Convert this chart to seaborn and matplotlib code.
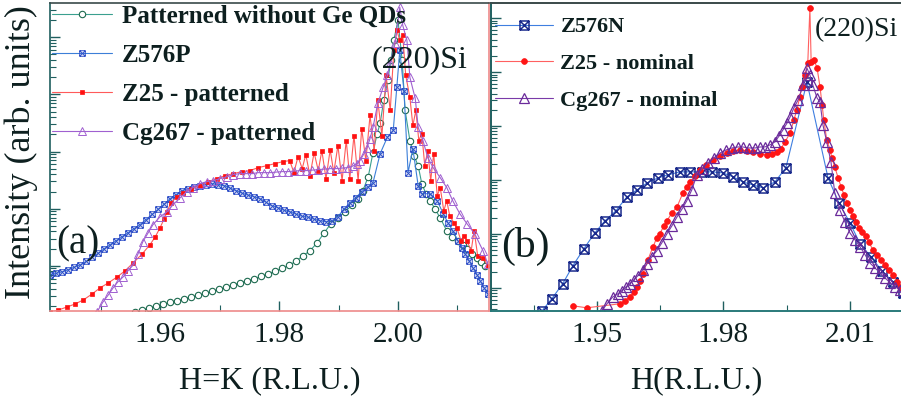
import matplotlib
matplotlib.use("Agg")
import matplotlib.pyplot as plt
import seaborn as sns
from matplotlib.path import Path
from matplotlib.ticker import LogLocator, NullFormatter, MultipleLocator
from matplotlib.font_manager import FontProperties

sns.set_style("ticks")
plt.rcParams["font.family"] = ["Liberation Serif", "DejaVu Serif"]
plt.rcParams["xtick.direction"] = "in"
plt.rcParams["ytick.direction"] = "in"

# ---------------- panel (a) data ----------------
pat_h = [1.9558, 1.957, 1.9582, 1.9593, 1.9605, 1.9617, 1.9629, 1.964, 1.9652, 1.9664,
         1.9676, 1.9687, 1.9699, 1.9711, 1.9723, 1.9734, 1.9746, 1.9758, 1.977, 1.9782,
         1.9793, 1.9805, 1.9817, 1.9829, 1.984, 1.9852, 1.9864, 1.9876, 1.9887, 1.9899,
         1.9911, 1.9923, 1.9933, 1.9941, 1.995, 1.9958, 1.9965, 1.997, 1.9976, 1.9983,
         1.9988, 1.9993, 2.0, 2.0007, 2.0012, 2.002, 2.0027, 2.0034, 2.004, 2.0047,
         2.0054, 2.0062, 2.0071, 2.0082, 2.0091, 2.0101, 2.0109, 2.0116, 2.0124, 2.0133,
         2.0139, 2.0146]
pat_i = [0.156, 0.169, 0.183, 0.199, 0.211, 0.229, 0.243, 0.264, 0.286, 0.304,
         0.329, 0.357, 0.387, 0.420, 0.464, 0.503, 0.546, 0.592, 0.655, 0.724,
         0.801, 0.904, 1.02, 1.22, 1.50, 1.83, 2.53, 3.79, 5.46, 6.95,
         8.86, 11.7, 15.0, 20.7, 36.4, 96, 207, 310, 785, 1780,
         3950, 8900, 20000, 3950, 525, 156, 85, 56, 27.5, 18.3,
         13.8, 10.0, 6.9, 4.1, 3.23, 2.75, 2.34, 2.0, 1.62, 1.38,
         1.17, 1.0]

z576p_h = [1.9415, 1.9425, 1.9435, 1.9445, 1.9455, 1.9466, 1.9476, 1.9486, 1.9496, 1.9506,
           1.9516, 1.9526, 1.9536, 1.9546, 1.9556, 1.9566, 1.9576, 1.9587, 1.9597, 1.9607,
           1.9617, 1.9627, 1.9637, 1.9647, 1.9657, 1.9667, 1.9677, 1.9687, 1.9697, 1.9708,
           1.9718, 1.9728, 1.9738, 1.9748, 1.9758, 1.9768, 1.9778, 1.9788, 1.9798, 1.9808,
           1.9818, 1.9829, 1.9839, 1.9849, 1.9859, 1.9869, 1.9879, 1.9889, 1.9899, 1.9909,
           1.9919, 1.9929, 1.9939, 1.995, 1.9958,
           1.997, 1.9982, 1.9992, 1.9998, 2.0003, 2.001, 2.0017, 2.0025, 2.0034, 2.004,
           2.0054, 2.0066, 2.0076, 2.0084, 2.0092, 2.0101, 2.0108, 2.0113, 2.012, 2.0126,
           2.0133, 2.0138, 2.0145, 2.0151]
z576p_i = [0.695, 0.738, 0.785, 0.851, 0.941, 1.04, 1.20, 1.41, 1.66, 1.99,
           2.34, 2.75, 3.23, 3.79, 4.46, 5.24, 6.41, 8.01, 9.80, 12.0,
           15.0, 17.6, 20.7, 22.4, 24.3, 25.3, 26.4, 27.5, 26.4, 25.3,
           22.9, 20.7, 18.7, 17.3, 16.2, 15.0, 13.0, 11.3, 10.4, 9.41,
           8.86, 8.01, 7.38, 7.10, 6.55, 6.16, 5.91, 6.16, 7.24, 9.80,
           12.7, 15.6, 19.9, 24.3, 28.6,
           92, 177, 234, 1330, 5900, 1170, 43, 113, 25, 18.3,
           18.3, 13.8, 8.2, 5.7, 4.1, 2.75, 2.07, 1.62, 1.22, 0.92,
           0.70, 0.55, 0.41, 0.32]

z25p_h = [1.9415, 1.9429, 1.9444, 1.9457, 1.9471, 1.9486, 1.9499, 1.9513, 1.9528, 1.9541,
          1.9555, 1.957, 1.9583, 1.9592, 1.96, 1.9607, 1.9612, 1.9618, 1.9629, 1.9639,
          1.9652, 1.9667, 1.9681, 1.9696, 1.9709, 1.9723, 1.9738, 1.9751, 1.9765, 1.978,
          1.9793, 1.9807,
          1.9818, 1.9825, 1.9832, 1.9839, 1.9845, 1.9852, 1.9859, 1.9866, 1.9872, 1.9879,
          1.9886, 1.9892, 1.9899, 1.9906, 1.9913, 1.9919, 1.9926, 1.9933, 1.9939, 1.9946,
          1.9953, 1.996, 1.9966, 1.9973, 1.998, 1.9987, 1.9993, 1.9998, 2.0003, 2.0008,
          2.0013, 2.002, 2.0025, 2.003, 2.0035, 2.004, 2.0045, 2.005, 2.0055, 2.006,
          2.0066, 2.0071, 2.0077, 2.0082, 2.0087, 2.0094, 2.0099, 2.0106, 2.0111, 2.0116,
          2.0123, 2.0128, 2.0134, 2.0143, 2.0151]
z25p_i = [0.155, 0.169, 0.191, 0.215, 0.253, 0.323, 0.411, 0.503, 0.641, 0.817,
          1.13, 1.62, 2.34, 3.23, 4.64, 6.68, 8.86, 12.7, 16.2, 19.1,
          22.4, 25.3, 29.8, 33.6, 37.9, 41.1, 44.6, 46.4, 52.4, 56.8,
          61.6, 66.8,
          69.5, 42.8, 81.7, 50.3, 88.6, 37.9, 96, 46.4, 104, 33.6,
          108, 42.8, 127, 31, 156, 33.6, 191, 31, 253, 69.5,
          429, 104, 785, 191, 2150, 524, 5910, 13270, 8860, 10840,
          2150, 886, 286, 524, 156, 207, 56.8, 104, 31, 92.2,
          16.9, 23.4, 9.2, 13.8, 7.5, 5.7, 4.6, 2.75, 3.36, 2.75,
          1.83, 4.1, 1.5, 1.38, 1.0]

cg267p_h = [1.9494, 1.9504, 1.9513, 1.9521, 1.9529, 1.9538, 1.9546, 1.9555, 1.9563, 1.9571,
            1.958, 1.9588, 1.96, 1.9612, 1.9622, 1.9634, 1.9645, 1.9655, 1.9667, 1.9679,
            1.9689, 1.9701, 1.9713, 1.9723,
            1.9734, 1.9745, 1.9755, 1.9765, 1.9775, 1.9785, 1.9795, 1.9805, 1.9815, 1.9825,
            1.9835, 1.9845, 1.9855, 1.9866, 1.9876, 1.9886, 1.9896, 1.9906, 1.9916, 1.9924,
            1.9931, 1.9936,
            1.9943, 1.9948, 1.9953, 1.9958, 1.9966, 1.9975, 1.9982, 1.9987, 1.9995, 2.0003,
            2.0008, 2.0015, 2.002, 2.0029, 2.0034, 2.0042, 2.005, 2.0059, 2.0071, 2.0082,
            2.0092, 2.0104, 2.0116, 2.0129, 2.0143, 2.0151]
cg267p_i = [0.156, 0.233, 0.31, 0.411, 0.524, 0.641, 0.817, 1.04, 1.62, 2.64,
            3.79, 5.24, 7.24, 8.86, 11.8, 15.6, 19.9, 23.4, 27.5, 29.8,
            31, 33.6, 36.4, 39.5,
            41.1, 41.1, 41.1, 42.8, 42.8, 42.8, 43.7, 44.6, 44.6, 45.5,
            46.4, 46.4, 47.3, 48.3, 49.3, 50.3, 50.3, 51.4, 52.4, 55.7,
            61.6, 69.5,
            92.2, 117, 169, 264, 695, 1327, 2150, 3500, 7850, 33600,
            16200, 8860, 1990, 851, 264, 156, 78.5, 52.4, 35, 23.4,
            13.8, 8.17, 5.46, 3.64, 1.83, 1.08]

# ---------------- panel (b) data ----------------
z576n_h = [1.937, 1.9393, 1.9419, 1.9443, 1.9469, 1.9495, 1.9519, 1.9545, 1.9571, 1.9595,
           1.9619, 1.9645, 1.9668, 1.9697, 1.9721, 1.9749, 1.9773, 1.9799, 1.9823, 1.9846,
           1.987, 1.9894, 1.9922, 1.9948, 1.9998, 2.0048, 2.0074, 2.01, 2.0124, 2.015,
           2.0176, 2.0202, 2.0226]
z576n_i = [0.375, 0.625, 1.19, 2.56, 5.27, 10.4, 17.4, 26.7, 48.4, 65.3,
           88, 109, 124, 141, 141, 141, 141, 135, 114, 91.8,
           80.8, 71.1, 91.8, 167, 6530, 109, 37.5, 16, 6.53, 3.75,
           2.06, 1.29, 0.8]

z25n_h = [1.9443, 1.9476, 1.9555, 1.9566, 1.9578, 1.9588, 1.9595, 1.9602, 1.9609, 1.9621,
          1.9633, 1.9642, 1.9649, 1.9659, 1.9666, 1.9678, 1.969, 1.9704, 1.9713, 1.9721,
          1.9732, 1.9744, 1.9759, 1.9775, 1.9792, 1.9808, 1.9823, 1.9839, 1.9856, 1.987,
          1.9887, 1.9903, 1.9915, 1.9927, 1.9936, 1.9946, 1.9958, 1.9967, 1.9974, 1.9981,
          1.9986, 1.9993, 2.0, 2.0005, 2.0008, 2.0015, 2.0022, 2.0029, 2.0034, 2.0038,
          2.0045, 2.0053, 2.0057, 2.0064, 2.0072, 2.0079, 2.0086, 2.0093, 2.01, 2.0107,
          2.0114, 2.0121, 2.0128, 2.0138, 2.0145, 2.0154, 2.0164, 2.0173, 2.0183, 2.0192,
          2.0202, 2.0211, 2.0219]
z25n_i = [0.464, 0.426, 0.506, 0.574, 0.681, 0.843, 1.04, 1.35, 1.82, 3.3,
          5.74, 8.43, 10, 14.1, 17.4, 24.5, 31.6, 57.4, 74.2, 91.8,
          119, 153, 190, 235, 278, 316, 344, 359, 344, 330,
          303, 290, 303, 330, 375, 506, 742, 1290, 1980, 3440,
          5280, 8790, 14700, 153000, 15300, 16700, 11900, 5280, 2450, 1290,
          550, 359, 255, 174, 109, 74.2, 52.7, 37.5, 27.8, 21.5,
          16.7, 12.9, 10.9, 9.18, 7.11, 5.05, 4.08, 3.3, 2.67, 2.15,
          1.74, 1.29, 1.04]

cg267n_h = [1.9512, 1.9524, 1.9538, 1.955, 1.9559, 1.9569, 1.9578, 1.9588, 1.9597, 1.9609,
            1.9619, 1.963, 1.9642, 1.9654, 1.9666, 1.9678, 1.969, 1.9702, 1.9713, 1.9725,
            1.9737, 1.9749, 1.9763, 1.9777, 1.9792, 1.9806, 1.982, 1.9834, 1.9846, 1.986,
            1.9875, 1.9887, 1.9898, 1.991, 1.9922, 1.9932, 1.9941, 1.9951, 1.9958, 1.9967,
            1.9977, 1.9989, 1.9998, 2.0005, 2.0012, 2.0022, 2.0029, 2.0036, 2.0045, 2.0055,
            2.0064, 2.0076, 2.0088, 2.01, 2.0112, 2.0124, 2.0136, 2.0147, 2.0159, 2.0171,
            2.0183, 2.0195, 2.0207, 2.0219]
cg267n_i = [0.375, 0.506, 0.681, 0.774, 0.88, 1.04, 1.19, 1.41, 1.67, 2.15,
            2.78, 3.75, 4.84, 6.81, 10, 14.1, 20.6, 29, 40.8, 65.3,
            124, 160, 206, 255, 316, 359, 391, 408, 408, 391,
            391, 408, 408, 445, 506, 653, 843, 1140, 1470, 2150,
            3030, 5740, 11900, 8790, 5740, 3300, 2780, 1040, 506, 215,
            57.4, 27.8, 16.7, 10.4, 7.74, 5.74, 4.08, 2.9, 2.35, 1.9,
            1.53, 1.24, 1.04, 0.918]

labels_a = ["Patterned without Ge QDs", "Z576P", "Z25 - patterned", "Cg267 - patterned"]
labels_b = ["Z576N", "Z25 - nominal", "Cg267 - nominal"]
xticks_a = [1.96, 1.98, 2.00]
xticklabels_a = ["1.96", "1.98", "2.00"]
xticks_b = [1.95, 1.98, 2.01]
xticklabels_b = ["1.95", "1.98", "2.01"]

# square with a cross inside
boxx = Path([(-1, -1), (1, -1), (1, 1), (-1, 1), (-1, -1),
             (-1, -1), (1, 1), (-1, 1), (1, -1)],
            [Path.MOVETO, Path.LINETO, Path.LINETO, Path.LINETO, Path.CLOSEPOLY,
             Path.MOVETO, Path.LINETO, Path.MOVETO, Path.LINETO])

fig = plt.figure(figsize=(9.01, 4.08), dpi=100)
ax_a = fig.add_axes([50 / 901, 1 - 311 / 408, 439 / 901, 308 / 408])
ax_b = fig.add_axes([491 / 901, 1 - 311 / 408, 410 / 901, 308 / 408])

txt = "#0d1f1f"
teal = "#1f5f5f"
pink = "#ee8a8a"


def draw(ax, h, i, label, lc, marker, ms, mfc, mec, mew, lw=0.8):
    sns.lineplot(x=h, y=i, ax=ax, estimator=None, sort=False, color=lc, lw=lw,
                 marker=marker, ms=ms, mfc=mfc, mec=mec, mew=mew, label=label)


for ax in (ax_a, ax_b):
    ax.set_yscale("log")

draw(ax_a, pat_h, pat_i, labels_a[0], "#3aa08f", "o", 4.6, "white", "#1d6a4f", 0.8)
draw(ax_a, z576p_h, z576p_i, labels_a[1], "#3c7fd8", boxx, 4.0, "none", "#3050c8", 0.7)
draw(ax_a, z25p_h, z25p_i, labels_a[2], "#ff5a5a", "s", 2.8, "#ff1010", "#ff1010", 0.5)
draw(ax_a, cg267p_h, cg267p_i, labels_a[3], "#a060d0", "^", 5.2, "none", "#a060d0", 0.7)

draw(ax_b, z576n_h, z576n_i, labels_b[0], "#3f7fe0", boxx, 6.5, "none", "#1a2a8c", 1.1)
draw(ax_b, z25n_h, z25n_i, labels_b[1], "#ff6060", "o", 4.2, "#ff1515", "#ff1515", 0.5)
draw(ax_b, cg267n_h, cg267n_i, labels_b[2], "#7a3aa8", "^", 7.0, "none", "#6a2a9a", 0.9)

ax_a.set_xlim(1.9415, 2.0153)
ax_a.set_ylim(10 ** -0.79, 10 ** 4.6)
ax_b.set_xlim(1.9249, 2.0221)
ax_b.set_ylim(10 ** -0.43, 10 ** 5.28)

ax_a.set_xticks(xticks_a, xticklabels_a)
ax_a.xaxis.set_minor_locator(MultipleLocator(0.01))
ax_b.set_xticks(xticks_b, xticklabels_b)
ax_b.xaxis.set_minor_locator(MultipleLocator(0.015))

for ax in (ax_a, ax_b):
    ax.yaxis.set_major_locator(LogLocator(base=10, numticks=20))
    ax.yaxis.set_minor_locator(LogLocator(base=10, subs=[2, 3, 4, 5, 6, 7, 8, 9], numticks=50))
    ax.yaxis.set_major_formatter(NullFormatter())
    ax.yaxis.set_minor_formatter(NullFormatter())
    ax.tick_params(axis="both", which="major", length=7, width=1, color=teal,
                   labelsize=21, labelcolor=txt, pad=8)
    ax.tick_params(axis="both", which="minor", length=4, width=0.8, color=teal)
    ax.tick_params(axis="y", which="both", right=False)
    ax.tick_params(axis="x", which="both", top=False)
    ax.set_ylabel("")

for s, c in zip(["left", "top", "bottom", "right"], [teal, "#3a4a4a", pink, pink]):
    ax_a.spines[s].set_color(c)
    ax_a.spines[s].set_linewidth(1.2)
for s, c in zip(["left", "top", "bottom"], [teal, "#3a4a4a", "#2a7a7a"]):
    ax_b.spines[s].set_color(c)
    ax_b.spines[s].set_linewidth(1.4)
ax_b.spines["right"].set_visible(False)

ax_a.set_xlabel("H=K (R.L.U.)", fontsize=23, color=txt)
ax_a.xaxis.set_label_coords(0.5, -0.18)
ax_b.set_xlabel("H(R.L.U.)", fontsize=23, color=txt)
ax_b.xaxis.set_label_coords(0.5, -0.18)

fig.text(0.024, 0.627, "Intensity (arb. units)", rotation=90, ha="center", va="center",
         fontsize=26, color=txt)

ax_a.text(0.733, 0.815, "(220)Si", transform=ax_a.transAxes, ha="left", va="center",
          fontsize=23, color=txt)
ax_a.text(0.014, 0.2175, "(a)", transform=ax_a.transAxes, ha="left", va="center",
          fontsize=28, color=txt)
ax_b.text(0.79, 0.912, "(220)Si", transform=ax_b.transAxes, ha="left", va="center",
          fontsize=20, color=txt)
ax_b.text(0.025, 0.208, "(b)", transform=ax_b.transAxes, ha="left", va="center",
          fontsize=30, color=txt)

fp_a = FontProperties(family=["Liberation Serif"], weight="bold", size=18)
fp_b = FontProperties(family=["Liberation Serif"], weight="bold", size=16)
leg_a = ax_a.legend(loc="upper left", bbox_to_anchor=(0.004, 0.994), frameon=False, prop=fp_a,
                    handlelength=2.4, handletextpad=0.4, labelspacing=0.64,
                    borderaxespad=0, borderpad=0.0)
leg_b = ax_b.legend(loc="upper left", bbox_to_anchor=(0.004, 0.962), frameon=False, prop=fp_b,
                    handlelength=2.6, handletextpad=0.35, labelspacing=0.72,
                    borderaxespad=0, borderpad=0.1)
for t in leg_a.get_texts() + leg_b.get_texts():
    t.set_color(txt)

fig.savefig("out.png", dpi=100)
